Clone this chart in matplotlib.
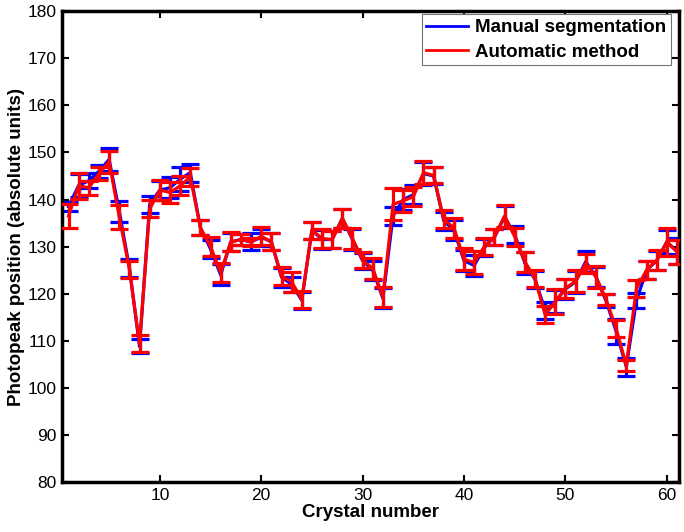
import matplotlib
matplotlib.use("Agg")
import matplotlib.pyplot as plt
from matplotlib.lines import Line2D

crystal = list(range(1, 62))

manual = [138.5, 143.0, 144.0, 146.0, 148.5, 137.5, 125.5, 108.8, 139.0, 142.0,
          142.5, 144.3, 145.7, 134.0, 129.5, 124.0, 131.0, 131.5, 131.0, 132.0,
          131.0, 123.5, 122.0, 118.6, 133.5, 131.5, 131.5, 136.0, 131.5, 127.0,
          125.0, 119.0, 136.5, 140.0, 141.0, 145.5, 145.0, 135.5, 133.5, 127.0,
          126.0, 129.8, 132.0, 136.3, 132.5, 126.5, 123.0, 116.5, 118.3, 121.0,
          122.5, 126.8, 123.6, 118.5, 112.0, 104.5, 118.5, 125.0, 127.0, 131.0,
          129.0]
manual_err = [1.0, 2.4, 1.6, 1.4, 2.5, 2.2, 1.9, 1.5, 1.8, 2.0,
              2.2, 2.6, 1.9, 1.6, 2.0, 2.2, 1.9, 1.2, 1.8, 1.8,
              1.8, 2.0, 1.6, 1.8, 1.8, 2.0, 1.9, 2.0, 2.2, 1.7,
              2.0, 2.1, 2.0, 2.2, 2.0, 2.4, 1.8, 1.9, 2.1, 2.2,
              2.3, 1.8, 1.7, 2.4, 1.8, 2.3, 1.8, 1.8, 2.5, 2.1,
              2.3, 2.2, 2.1, 1.4, 2.6, 1.9, 1.6, 1.9, 2.0, 2.6,
              2.8]
auto = [136.5, 142.9, 142.5, 145.5, 148.0, 136.3, 125.2, 109.4, 138.0, 142.0,
        141.5, 142.9, 144.8, 134.0, 130.0, 124.5, 131.0, 131.5, 131.0, 132.2,
        131.0, 123.7, 122.5, 118.8, 133.5, 131.7, 131.5, 136.0, 131.7, 127.1,
        125.4, 119.3, 139.0, 139.7, 140.6, 145.7, 145.1, 135.8, 134.0, 127.3,
        126.6, 130.0, 132.1, 136.5, 132.1, 126.8, 123.2, 115.5, 118.3, 121.1,
        122.7, 126.4, 123.6, 118.8, 112.6, 104.8, 121.1, 125.0, 127.1, 131.0,
        128.9]
auto_err = [2.5, 2.7, 1.5, 1.4, 2.3, 2.6, 1.8, 1.8, 1.8, 2.1,
            2.3, 2.0, 1.9, 1.6, 2.1, 2.1, 2.0, 1.2, 0.8, 1.9,
            1.8, 1.9, 2.1, 1.8, 1.8, 2.1, 1.9, 2.0, 2.2, 1.7,
            2.2, 2.1, 3.4, 2.4, 2.0, 2.5, 1.7, 1.9, 2.1, 2.3,
            2.4, 1.8, 1.7, 2.3, 1.9, 2.1, 1.8, 1.8, 2.6, 2.1,
            2.4, 2.0, 2.3, 1.2, 1.8, 1.2, 1.8, 1.9, 2.1, 3.0,
            2.6]

xticks = [10, 20, 30, 40, 50, 60]
yticks = [80, 90, 100, 110, 120, 130, 140, 150, 160, 170, 180]

plt.rcParams['font.family'] = ['Liberation Sans', 'DejaVu Sans']

fig = plt.figure(figsize=(6.84, 5.32), dpi=100)
ax = fig.add_axes([0.0906, 0.094, 0.9021, 0.885])

ax.errorbar(crystal, manual, yerr=manual_err, color='#0000ff', lw=2.3,
            elinewidth=2.3, capsize=6.5, capthick=2.3, zorder=2)
ax.errorbar(crystal, auto, yerr=auto_err, color='#ff0000', lw=2.3,
            elinewidth=2.3, capsize=6.5, capthick=2.3, zorder=3)

ax.set_xlim(0.35, 61.2)
ax.set_ylim(80, 180)
ax.set_xticks(xticks)
ax.set_yticks(yticks)
ax.tick_params(direction='in', top=True, right=True, length=5, width=1.5,
               labelsize=12.5, pad=4)
for s in ax.spines.values():
    s.set_linewidth(2.5)

ax.set_xlabel('Crystal number', fontsize=13.5, fontweight='bold', labelpad=1)
ax.set_ylabel('Photopeak position (absolute units)', fontsize=13.5,
              fontweight='bold', labelpad=2)

handles = [Line2D([], [], color='#0000ff', lw=2), Line2D([], [], color='#ff0000', lw=2)]
leg = ax.legend(handles, ['Manual segmentation', 'Automatic method'],
                loc='upper right', bbox_to_anchor=(0.987, 0.993),
                fancybox=False, edgecolor='0.45', framealpha=1,
                prop={'weight': 'bold', 'size': 13.5}, handlelength=2.2,
                borderaxespad=0.0, labelspacing=0.38, handletextpad=0.4,
                borderpad=0.25)
leg.get_frame().set_linewidth(0.8)

fig.savefig('out.png', dpi=100)
